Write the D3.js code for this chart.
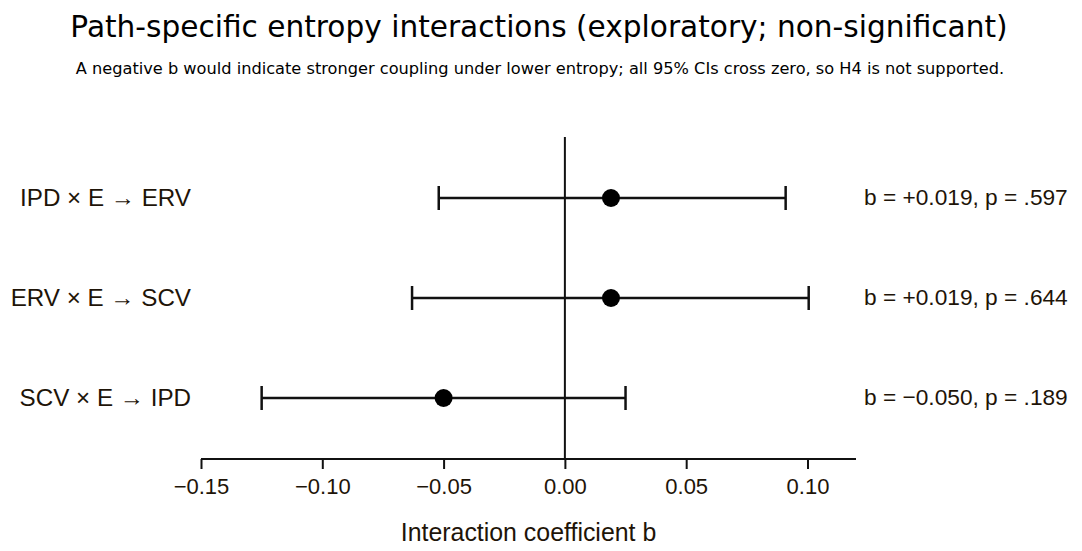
<!DOCTYPE html>
<html>
<head>
<meta charset="utf-8">
<script src="https://cdn.jsdelivr.net/npm/d3@7"></script>
<style>
  body { margin: 0; background: #fff; }
</style>
</head>
<body>
<div id="chart"></div>
<script>
var paths = ['IPD \u00d7 E \u2192 ERV', 'ERV \u00d7 E \u2192 SCV', 'SCV \u00d7 E \u2192 IPD'];
var estimates = [0.019, 0.019, -0.050];
var ciLow = [-0.052, -0.063, -0.125];
var ciHigh = [0.091, 0.1005, 0.025];
var pValues = ['.597', '.644', '.189'];
var xTicks = [-0.15, -0.10, -0.05, 0.00, 0.05, 0.10];

var svgWidth = 1082;
var svgHeight = 551;
var ink = '#111';
var textColor = '#1e1408';

var svg = d3.select('#chart')
    .append('svg')
    .attr('width', svgWidth)
    .attr('height', svgHeight);

var x = d3.scaleLinear().domain([-0.15, 0.12]).range([201, 856]);
var y = d3.scalePoint().domain(paths).range([198, 398]);

// title
svg.append('text')
    .attr('x', 539)
    .attr('y', 37)
    .attr('text-anchor', 'middle')
    .attr('font-family', 'DejaVu Sans')
    .attr('font-size', '29.6px')
    .attr('fill', '#000')
    .text('Path-specific entropy interactions (exploratory; non-significant)');

svg.append('text')
    .attr('x', 540)
    .attr('y', 74)
    .attr('text-anchor', 'middle')
    .attr('font-family', 'DejaVu Sans')
    .attr('font-size', '16.2px')
    .attr('fill', '#000')
    .text('A negative b would indicate stronger coupling under lower entropy; all 95% CIs cross zero, so H4 is not supported.');

// x axis
var xAxis = svg.append('g')
    .attr('transform', 'translate(0,459)')
    .call(d3.axisBottom(x).tickValues(xTicks).tickSize(10).tickPadding(9)
        .tickFormat(function (d) { return d3.format('.2f')(d).replace('-', '\u2212'); }));
xAxis.select('.domain').attr('stroke', ink).attr('stroke-width', 2).attr('d', 'M' + x(-0.15) + ',0H' + x(0.12));
xAxis.selectAll('.tick line').attr('stroke', ink).attr('stroke-width', 2);
xAxis.selectAll('.tick text')
    .attr('font-family', 'Liberation Sans')
    .attr('font-size', '22px')
    .attr('fill', textColor);

svg.append('text')
    .attr('x', x(-0.015))
    .attr('y', 541)
    .attr('text-anchor', 'middle')
    .attr('font-family', 'Liberation Sans')
    .attr('font-size', '24.9px')
    .attr('fill', textColor)
    .text('Interaction coefficient b');

// zero reference line
svg.append('line')
    .attr('x1', x(0)).attr('x2', x(0))
    .attr('y1', 137).attr('y2', 459)
    .attr('stroke', ink)
    .attr('stroke-width', 2);

// CI bars and points
paths.forEach(function (p, i) {
    var cy = y(p);
    svg.append('line')
        .attr('x1', x(ciLow[i])).attr('x2', x(ciHigh[i]))
        .attr('y1', cy).attr('y2', cy)
        .attr('stroke', ink).attr('stroke-width', 2.5);
    [ciLow[i], ciHigh[i]].forEach(function (v) {
        svg.append('line')
            .attr('x1', x(v)).attr('x2', x(v))
            .attr('y1', cy - 12).attr('y2', cy + 12)
            .attr('stroke', ink).attr('stroke-width', 2.5);
    });
    svg.append('circle')
        .attr('cx', x(estimates[i]))
        .attr('cy', cy)
        .attr('r', 9)
        .attr('fill', '#000');

    svg.append('text')
        .attr('x', 191)
        .attr('y', cy + 8)
        .attr('text-anchor', 'end')
        .attr('font-family', 'Liberation Sans')
        .attr('font-size', '24.2px')
        .attr('fill', textColor)
        .text(p);

    var sign = estimates[i] >= 0 ? '+' : '\u2212';
    svg.append('text')
        .attr('x', 864)
        .attr('y', cy + 7)
        .attr('font-family', 'Liberation Sans')
        .attr('font-size', '22.7px')
        .attr('fill', textColor)
        .text('b = ' + sign + Math.abs(estimates[i]).toFixed(3) + ', p = ' + pValues[i]);
});
</script>
</body>
</html>
